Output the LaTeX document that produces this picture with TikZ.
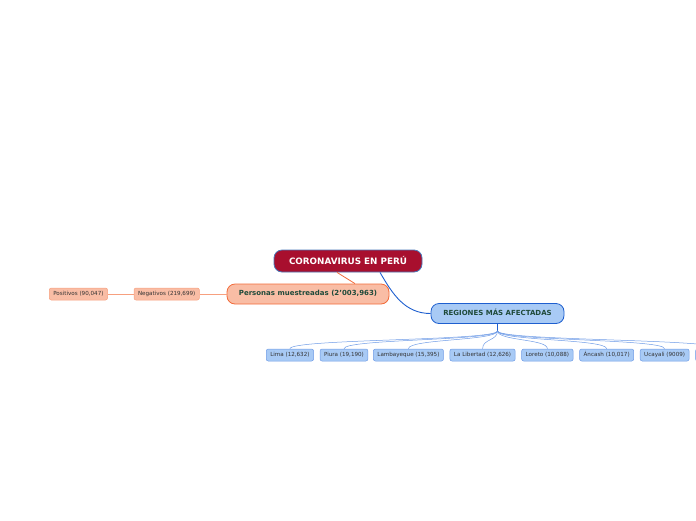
\documentclass[tikz,border=0pt]{standalone}
\usepackage{fontspec}
\setmainfont{DejaVu Sans}
\usepackage{tikz}
\usetikzlibrary{positioning}

\definecolor{rojoraiz}{HTML}{A80F2E}
\definecolor{borderaiz}{HTML}{4A78B8}
\definecolor{salmon}{HTML}{F9BDA5}
\definecolor{naranja}{HTML}{F26B3A}
\definecolor{naranjaclaro}{HTML}{F7A07F}
\definecolor{celeste}{HTML}{A8CAF5}
\definecolor{azul}{HTML}{1E5FCF}
\definecolor{azulclaro}{HTML}{6E9BE6}
\definecolor{verdeoscuro}{HTML}{1F4A3A}

\begin{document}
\begin{tikzpicture}[
                x=1pt, y=-1pt,
                every node/.style={draw, align=center, inner ysep=0pt},
                raiz/.style={fill=rojoraiz, draw=borderaiz, line width=0.8pt, rounded corners=8pt, text=white,
                    font=\bfseries\fontsize{8.8}{10}\selectfont, minimum width=148pt, minimum height=22pt,
                    text height=6.6pt, text depth=0pt},
                rama/.style={line width=0.8pt, rounded corners=8pt, font=\bfseries\fontsize{7}{8}\selectfont,
                    text=verdeoscuro, minimum height=20pt, text height=5.3pt, text depth=1.4pt},
                hoja/.style={fill=celeste, draw=azulclaro, line width=0.5pt, rounded corners=2pt,
                    font=\fontsize{5.6}{6.5}\selectfont, text=black!80, minimum height=12pt, inner xsep=4pt,
                    text height=4.2pt, text depth=1.1pt},
                hojaroja/.style={hoja, fill=salmon, draw=naranjaclaro},
                enlace/.style={-, line width=0.5pt, draw=azulclaro}]

            \useasboundingbox (0,0) rectangle (696,520);
            \clip (0,0) rectangle (696,520);

            % Nodos
            \node[raiz] (raiz) at (348,261) {CORONAVIRUS EN PERÚ};
            \node[rama, fill=salmon, draw=naranja, minimum width=162pt] (personas) at (308,294) {Personas muestreadas (2’003,963)};
            \node[hojaroja, left=27pt of personas] (negativos) {Negativos (219,699)};
            \node[hojaroja, left=26pt of negativos] (positivos) {Positivos (90,047)};
            \node[rama, fill=celeste, draw=azul, minimum width=133pt] (regiones) at (497.5,313.5) {REGIONES MÁS AFECTADAS};
            \coordinate[below=7pt of regiones.south] (hub);

            \node[hoja, anchor=west] (lima) at (266,355) {Lima (12,632)};
            \node[hoja, right=6pt of lima] (piura) {Piura (19,190)};
            \node[hoja, right=5pt of piura] (lambayeque) {Lambayeque (15,395)};
            \node[hoja, right=6pt of lambayeque] (libertad) {La Libertad (12,626)};
            \node[hoja, right=6pt of libertad] (loreto) {Loreto (10,088)};
            \node[hoja, right=6pt of loreto] (ancash) {Áncash (10,017)};
            \node[hoja, right=6pt of ancash] (ucayali) {Ucayali (9009)};
            \node[hoja, right=6pt of ucayali, minimum width=50pt] (otra) {};

            % Conexiones
            \draw[naranja, line width=0.8pt] ([xshift=-11pt]raiz.south) -- ([xshift=47pt]personas.north);
            \draw[azul, line width=0.9pt] ([xshift=32pt]raiz.south) to[out=-60, in=180] (regiones.west);
            \draw[naranjaclaro, line width=0.5pt] (personas.west) -- (negativos.east);
            \draw[naranjaclaro, line width=0.5pt] (negativos.west) -- (positivos.east);
            \draw[azul, line width=1.4pt] (regiones.south) -- (hub);
            \foreach \h in {lima, piura, lambayeque, libertad, loreto, ancash, ucayali, otra}
                \draw[enlace] (hub) .. controls +(0,10) and +(0,-10) .. (\h.north);

        \end{tikzpicture}
\end{document}
